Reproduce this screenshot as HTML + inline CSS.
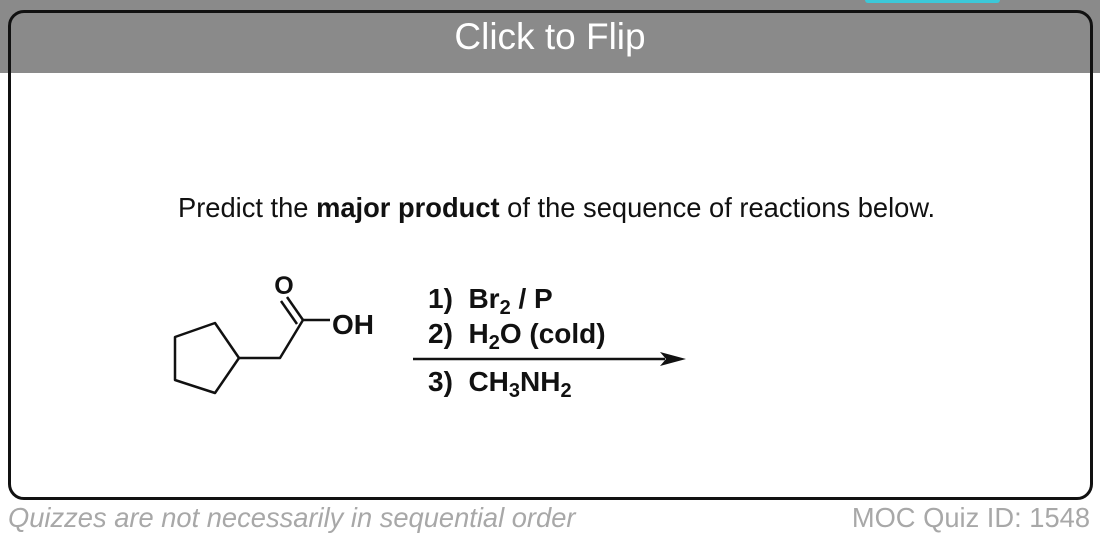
<!DOCTYPE html>
<html><head><meta charset="utf-8"><style>
body{margin:0;width:1100px;height:539px;background:#fff;position:relative;overflow:hidden;font-family:"Liberation Sans",Arial,sans-serif}
.band{position:absolute;left:0;top:0;width:1100px;height:73px;background:#8a8a8a}
.teal{position:absolute;left:865px;top:0;width:135px;height:3px;background:#3cc8d8;border-radius:0 0 4px 4px}
.card{position:absolute;left:8px;top:10px;width:1079px;height:484px;border:3px solid #111;border-radius:16px;box-sizing:content-box}
.title{position:absolute;left:0;width:1100px;top:16px;text-align:center;color:#fff;font-size:37px}
.q{position:absolute;left:178px;top:192px;font-size:27.3px;color:#111;white-space:nowrap}
.f{position:absolute;top:502px;font-size:27.3px;color:#a8a8a8;white-space:nowrap}
</style></head><body>
<div class="band"></div><div class="teal"></div>
<div class="card"></div>
<div class="title">Click to Flip</div>
<div class="q">Predict the <b>major product</b> of the sequence of reactions below.</div>
<svg width="1100" height="539" style="position:absolute;left:0;top:0" font-family="Liberation Sans, Arial, sans-serif">
<g fill="none" stroke="#111" stroke-width="2.5" stroke-linejoin="round">
<polygon points="175,337 215,323 239,358 215,393 175,380"/>
<polyline points="239,358 280,358 303,320 330,320"/>
<line x1="303" y1="320" x2="287" y2="297"/>
<line x1="297" y1="324" x2="281" y2="301"/>
<line x1="413" y1="359" x2="665" y2="359"/>
</g>
<polygon points="660,352 686,359 660,366 666,359" fill="#111"/>
<g font-weight="bold" font-size="28" fill="#111">
<text x="284" y="294" text-anchor="middle" font-size="25">O</text>
<text x="332" y="334">OH</text>
<text x="428" y="308" xml:space="preserve">1)  Br<tspan font-size="20" dy="6">2</tspan><tspan dy="-6"> / P</tspan></text>
<text x="428" y="343" xml:space="preserve">2)  H<tspan font-size="20" dy="6">2</tspan><tspan dy="-6">O (cold)</tspan></text>
<text x="428" y="391" xml:space="preserve">3)  CH<tspan font-size="20" dy="6">3</tspan><tspan dy="-6">NH</tspan><tspan font-size="20" dy="6">2</tspan></text>
</g>
</svg>
<div class="f" style="left:8px;font-style:italic">Quizzes are not necessarily in sequential order</div>
<div class="f" style="right:10px">MOC Quiz ID: 1548</div>
</body></html>
